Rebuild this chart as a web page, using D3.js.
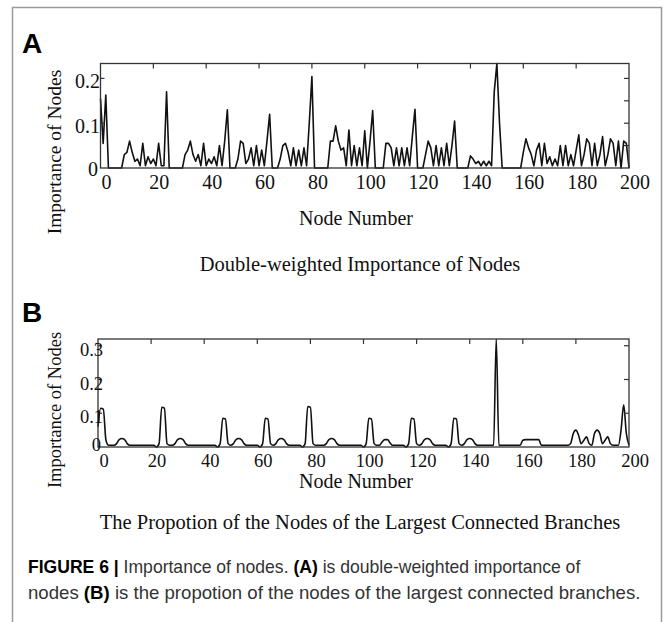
<!DOCTYPE html>
<html>
<head>
<meta charset="utf-8">
<script src="https://cdn.jsdelivr.net/npm/d3@7/dist/d3.min.js"></script>
<style>
  body { margin: 0; background: #fff; }
  svg { display: block; }
</style>
</head>
<body>
<svg id="fig" width="664" height="622"></svg>
<script>
// node numbers 0..200
const nodeNumbers = d3.range(0, 201);

// (A) double-weighted importance, read per node from the figure
const importanceA = [
  0.155, 0.055, 0.163, 0, 0, 0, 0, 0, 0, 0.03,
  0.035, 0.06, 0.035, 0.015, 0.02, 0.005, 0.055, 0.005, 0.025, 0.01,
  0.02, 0.005, 0.055, 0.005, 0.005, 0.17, 0, 0, 0, 0,
  0, 0, 0.03, 0.04, 0.06, 0.03, 0.015, 0.03, 0.005, 0.055,
  0.005, 0.02, 0.01, 0.025, 0.005, 0.05, 0.005, 0.06, 0.13, 0,
  0, 0, 0.02, 0.06, 0.055, 0.01, 0.02, 0.045, 0.005, 0.05,
  0.005, 0.04, 0.005, 0.06, 0.12, 0, 0, 0, 0.02, 0.05,
  0.055, 0.035, 0.005, 0.045, 0.005, 0.04, 0.005, 0.045, 0.005, 0.1,
  0.204, 0, 0, 0, 0, 0, 0, 0.06, 0.06, 0.094,
  0.06, 0.04, 0.045, 0.005, 0.085, 0.005, 0.05, 0.005, 0.045, 0.005,
  0.083, 0, 0.06, 0.128, 0, 0, 0, 0, 0.055, 0.055,
  0.045, 0.005, 0.045, 0.005, 0.045, 0.005, 0.045, 0.005, 0.07, 0.131,
  0, 0, 0, 0.03, 0.06, 0.045, 0.005, 0.05, 0.005, 0.045,
  0.005, 0.055, 0.005, 0.05, 0.105, 0, 0, 0, 0, 0,
  0.027, 0.02, 0.01, 0.015, 0.005, 0.015, 0.005, 0.015, 0.005, 0.17,
  0.233, 0.1, 0, 0, 0, 0, 0, 0, 0, 0,
  0.035, 0.065, 0.045, 0.03, 0.005, 0.04, 0.055, 0.005, 0.055, 0.01,
  0.025, 0.005, 0.02, 0.005, 0.05, 0.005, 0.05, 0.005, 0.03, 0.005,
  0.04, 0.074, 0.005, 0.03, 0.065, 0.055, 0.005, 0.055, 0.005, 0.03,
  0.07, 0.005, 0.03, 0.065, 0.055, 0.005, 0.06, 0, 0.06, 0.055,
  0
];

// (B) proportion of nodes of the largest connected branch
const proportionB = [
  0.06, 0.115, 0.112, 0.02, 0.005, 0.005, 0.005, 0.01, 0.022, 0.025,
  0.022, 0.01, 0.005, 0.005, 0.005, 0.005, 0.005, 0.005, 0.005, 0.005,
  0.005, 0.005, 0, 0.01, 0.118, 0.115, 0.01, 0.005, 0.005, 0.01,
  0.022, 0.025, 0.022, 0.01, 0.005, 0.005, 0.005, 0.005, 0.005, 0.005,
  0.005, 0.005, 0.005, 0.005, 0.005, 0, 0.01, 0.085, 0.083, 0.01,
  0.005, 0.01, 0.022, 0.025, 0.022, 0.01, 0.005, 0.005, 0.005, 0.005,
  0.005, 0, 0.01, 0.085, 0.083, 0.01, 0.005, 0.01, 0.022, 0.025,
  0.022, 0.01, 0.005, 0.005, 0.005, 0.005, 0.005, 0, 0.01, 0.12,
  0.118, 0.01, 0.005, 0.005, 0.005, 0.005, 0.01, 0.022, 0.025, 0.022,
  0.01, 0.005, 0.005, 0.005, 0.005, 0.005, 0.005, 0.005, 0.005, 0.005,
  0, 0.01, 0.085, 0.083, 0.01, 0.005, 0.005, 0.015, 0.022, 0.022,
  0.012, 0.005, 0.005, 0.005, 0.005, 0.005, 0, 0.01, 0.085, 0.083,
  0.01, 0.005, 0.01, 0.022, 0.025, 0.022, 0.01, 0.005, 0.005, 0.005,
  0.005, 0.005, 0, 0.01, 0.085, 0.083, 0.01, 0.005, 0.01, 0.022,
  0.025, 0.022, 0.01, 0.005, 0.005, 0.005, 0.005, 0.005, 0.005, 0.005,
  0.32, 0.005, 0.005, 0.005, 0.005, 0.005, 0.005, 0.005, 0.005, 0.005,
  0.02, 0.022, 0.022, 0.022, 0.022, 0.022, 0.022, 0.005, 0.005, 0.005,
  0.005, 0.005, 0.005, 0.005, 0.005, 0.005, 0.005, 0.005, 0.01, 0.04,
  0.05, 0.035, 0.01, 0.02, 0.03, 0.01, 0.005, 0.04, 0.05, 0.04,
  0.01, 0.02, 0.03, 0.01, 0.005, 0.005, 0.005, 0.05, 0.125, 0.04,
  0.005
];

const xTickValues = d3.range(0, 201, 20);
const yLabelsA = [0, 0.1, 0.2];
const yTicksRightA = [0.05, 0.1, 0.15, 0.2];
const yLabelsB = [0, 0.1, 0.2, 0.3];
const yTicksRightB = [0.1, 0.2, 0.3];

// caption lines: [text, bold?]
const captionLine1 = [["FIGURE 6 | ", true], ["Importance of nodes. ", false], ["(A)", true], [" is double-weighted importance of", false]];
const captionLine2 = [["nodes ", false], ["(B)", true], [" is the propotion of the nodes of the largest connected branches.", false]];

const serif = "'Liberation Serif', 'Times New Roman', serif";
const sans = "'Liberation Sans', Arial, sans-serif";

const svg = d3.select("#fig");

// outer gray border of the figure box
svg.append("rect")
  .attr("x", 12.5).attr("y", 7.5)
  .attr("width", 649).attr("height", 640)
  .attr("fill", "none").attr("stroke", "#9a9a9a").attr("stroke-width", 1.5);

function drawPanel(o) {
  const g = svg.append("g");
  const x = d3.scaleLinear().domain([0, 200]).range([o.left, o.right]);
  const y = d3.scaleLinear().domain(o.yDomain).range([o.bottom, o.top]);

  // panel letter
  g.append("text")
    .attr("x", 22).attr("y", o.letterY)
    .attr("font-family", sans).attr("font-weight", "bold")
    .attr("font-size", 28).attr("fill", "#000")
    .text(o.letter);

  // data line
  const line = d3.line()
    .x((d, i) => x(nodeNumbers[i]))
    .y(d => y(d))
    .curve(o.curve);
  g.append("path")
    .datum(o.values)
    .attr("d", line)
    .attr("fill", "none")
    .attr("stroke", "#111")
    .attr("stroke-width", 1.6)
    .attr("stroke-linejoin", "round");

  // frame
  g.append("rect")
    .attr("x", o.left).attr("y", o.top)
    .attr("width", o.right - o.left).attr("height", o.bottom - o.top)
    .attr("fill", "none").attr("stroke", "#333").attr("stroke-width", 1.3);

  // top ticks (inward)
  const inner = xTickValues.filter(v => v > 0 && v < 200);
  g.selectAll(".tt").data(inner).enter().append("line")
    .attr("x1", d => x(d)).attr("x2", d => x(d))
    .attr("y1", o.top).attr("y2", o.top + 5)
    .attr("stroke", "#333").attr("stroke-width", 1.2);

  // right ticks
  g.selectAll(".rt").data(o.rightTicks).enter().append("line")
    .attr("x1", o.right).attr("x2", o.right - 5)
    .attr("y1", d => y(d)).attr("y2", d => y(d))
    .attr("stroke", "#333").attr("stroke-width", 1.2);

  // left ticks
  g.selectAll(".lt").data(o.yLabels.filter(v => v > 0)).enter().append("line")
    .attr("x1", o.left).attr("x2", o.left + 4)
    .attr("y1", d => y(d)).attr("y2", d => y(d))
    .attr("stroke", "#333").attr("stroke-width", 1.2);

  // x tick labels
  g.selectAll(".xl").data(xTickValues).enter().append("text")
    .attr("x", d => x(d) + 6).attr("y", o.xLabelY)
    .attr("text-anchor", "middle")
    .attr("font-family", serif).attr("font-size", o.tickFont).attr("fill", "#111")
    .text(d => d);

  // y tick labels ("0" sits a little lower-left of the origin)
  g.selectAll(".yl").data(o.yLabels).enter().append("text")
    .attr("x", d => d === 0 ? o.yLabelX - 2 : o.yLabelX)
    .attr("y", d => y(d) + (d === 0 ? o.zeroDy : 10))
    .attr("text-anchor", "end")
    .attr("font-family", serif).attr("font-size", o.tickFont).attr("fill", "#111")
    .text(d => d);

  // axis titles
  g.append("text")
    .attr("x", 356).attr("y", o.xTitleY)
    .attr("text-anchor", "middle")
    .attr("font-family", serif).attr("font-size", 20).attr("fill", "#111")
    .text("Node Number");

  g.append("text")
    .attr("transform", `translate(${61},${o.yTitleCenter}) rotate(-90)`)
    .attr("text-anchor", "middle")
    .attr("font-family", serif).attr("font-size", o.yTitleFont).attr("fill", "#111")
    .text("Importance of Nodes");

  g.append("text")
    .attr("x", 360).attr("y", o.titleY)
    .attr("text-anchor", "middle")
    .attr("font-family", serif).attr("font-size", 20.5).attr("fill", "#111")
    .text(o.title);
}

drawPanel({
  letter: "A", letterY: 53,
  values: importanceA, curve: d3.curveLinear,
  left: 100.5, right: 629, top: 63.5, bottom: 168,
  yDomain: [0, 0.2333],
  rightTicks: yTicksRightA, yLabels: yLabelsA,
  yLabelX: 100, zeroDy: 8, xLabelY: 189, tickFont: 20,
  xTitleY: 225, yTitleCenter: 152, yTitleFont: 19.5,
  titleY: 271, title: "Double-weighted Importance of Nodes"
});

drawPanel({
  letter: "B", letterY: 322,
  values: proportionB, curve: d3.curveMonotoneX,
  left: 98, right: 629, top: 339, bottom: 447,
  yDomain: [0, 0.32],
  rightTicks: yTicksRightB, yLabels: yLabelsB,
  yLabelX: 103, zeroDy: 4, xLabelY: 467, tickFont: 18.5,
  xTitleY: 488, yTitleCenter: 410, yTitleFont: 18.5,
  titleY: 529, title: "The Propotion of the Nodes of the Largest Connected Branches"
});

// caption: a condensed sans look, made by squeezing each line horizontally
function captionLine(parts, yPos, width) {
  const g = svg.append("g");
  const t = g.append("text")
    .attr("x", 0).attr("y", 0)
    .attr("font-family", sans).attr("font-size", 18).attr("fill", "#333");
  parts.forEach(([s, bold]) => {
    const sp = t.append("tspan").text(s);
    if (bold) sp.attr("font-weight", "bold").attr("fill", "#000");
  });
  const natural = t.node().getComputedTextLength();
  g.attr("transform", `translate(28,${yPos}) scale(${width / natural},1)`);
}
captionLine(captionLine1, 573, 553);
captionLine(captionLine2, 599, 613);
</script>
</body>
</html>
